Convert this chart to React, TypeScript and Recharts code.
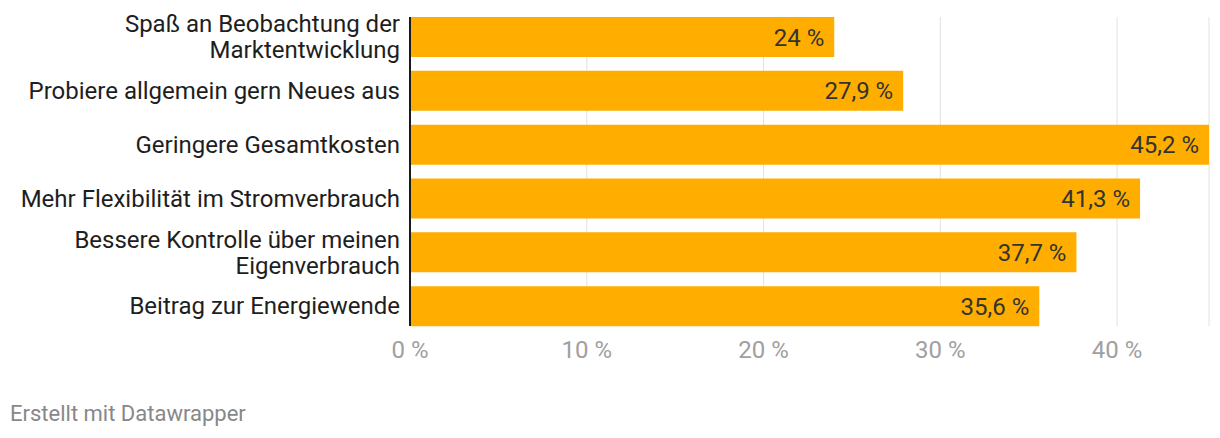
import React from "react";
import { BarChart, Bar, XAxis, YAxis, CartesianGrid, LabelList } from "recharts";

const categories = [
  "Spaß an Beobachtung der\nMarktentwicklung",
  "Probiere allgemein gern Neues aus",
  "Geringere Gesamtkosten",
  "Mehr Flexibilität im Stromverbrauch",
  "Bessere Kontrolle über meinen\nEigenverbrauch",
  "Beitrag zur Energiewende",
];
const values = [24, 27.9, 45.2, 41.3, 37.7, 35.6];
const xTicks = [0, 10, 20, 30, 40];

const data = categories.map((c, i) => ({ name: c, value: values[i] }));

const fmt = (v: number) => String(v).replace(".", ",") + " %";
const FONT = "Roboto, 'Noto Sans', sans-serif";

const YTick = (props: any) => {
  const { x, y, payload } = props;
  const lines = String(payload.value).split("\n");
  const lh = 26;
  const start = -((lines.length - 1) * lh) / 2;
  return (
    <text x={x} y={y} textAnchor="end" fill="#1e1e1e" fontSize={24} fontFamily={FONT}>
      {lines.map((l, i) => (
        <tspan key={i} x={x} y={y + start + i * lh} dy="0.35em">
          {l}
        </tspan>
      ))}
    </text>
  );
};

export default function App() {
  return (
    <div style={{ margin: -8, width: 1220, height: 438, position: "relative", background: "#fff", fontFamily: FONT }}>
      <BarChart
        width={1220}
        height={380}
        data={data}
        layout="vertical"
        margin={{ top: 17, right: 11, bottom: 0, left: 0 }}
        barSize={40}
      >
        <CartesianGrid horizontal={false} stroke="#e2e2e2" strokeWidth={1} />
        <XAxis
          type="number"
          domain={[0, 45.2]}
          ticks={xTicks}
          allowDataOverflow
          axisLine={false}
          tickLine={false}
          tickSize={0}
          tickMargin={15}
          height={54}
          tick={{ fill: "#a0a0a0", fontSize: 24, fontFamily: FONT }}
          tickFormatter={(v: number) => `${v} %`}
        />
        <YAxis
          type="category"
          dataKey="name"
          width={410}
          padding={{ top: -7, bottom: -7 }}
          axisLine={{ stroke: "#1a1a1a", strokeWidth: 2 }}
          tickLine={false}
          tickSize={0}
          tickMargin={10}
          tick={<YTick />}
          interval={0}
        />
        <Bar dataKey="value" fill="#ffae00" isAnimationActive={false}>
          <LabelList
            dataKey="value"
            position="insideRight"
            offset={10}
            formatter={(v: any) => fmt(v)}
            style={{ fill: "#333", fontSize: 24, fontFamily: FONT }}
          />
        </Bar>
      </BarChart>
      <div
        style={{
          position: "absolute",
          left: 10,
          top: 403,
          fontSize: 22,
          color: "#888",
          fontFamily: FONT,
          lineHeight: "22px",
          whiteSpace: "nowrap",
        }}
      >
        Erstellt mit Datawrapper
      </div>
    </div>
  );
}
